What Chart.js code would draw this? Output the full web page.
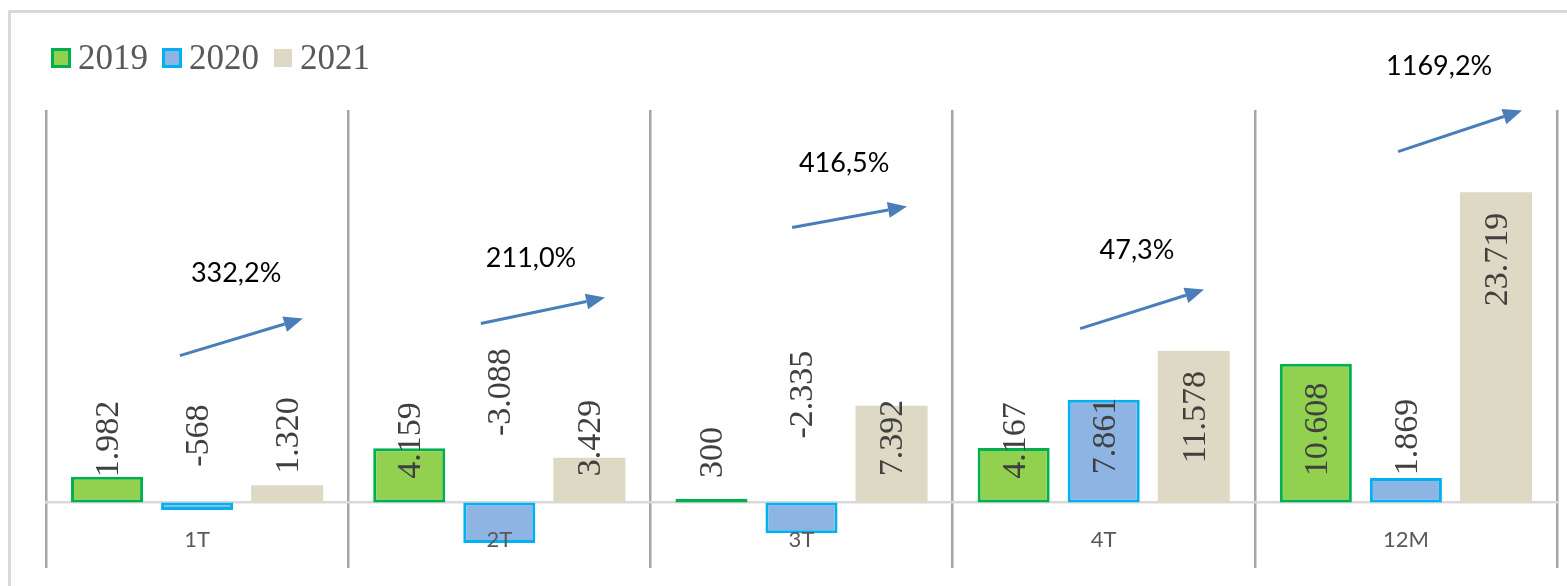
<!DOCTYPE html>
<html>
<head>
<meta charset="utf-8">
<script src="https://cdn.jsdelivr.net/npm/chart.js@4"></script>
<style>
    body { margin: 0; background: #fff; }
    #marco { position: relative; width: 1567px; height: 586px; overflow: hidden; }
    #borde { position: absolute; left: 8px; top: 10px; width: 1700px; height: 700px; border: 3px solid #d9d9d9; }
    #grafico { position: absolute; left: 0; top: 0; }
</style>
</head>
<body>
<div id="marco">
    <div id="borde"></div>
    <canvas id="grafico" width="1567" height="586"></canvas>
</div>
<script>
const categorias = ["1T", "2T", "3T", "4T", "12M"];
const anios = ["2019", "2020", "2021"];
const valores2019 = [1982, 4159, 300, 4167, 10608];
const valores2020 = [-568, -3088, -2335, 7861, 1869];
const valores2021 = [1320, 3429, 7392, 11578, 23719];
const variaciones = ["332,2%", "211,0%", "416,5%", "47,3%", "1169,2%"];

// eje y: -5.000 a 30.000
const ejeMin = -5000;
const ejeMax = 30000;

// donde quedaron las etiquetas de valor en el original (centro, en unidades del eje)
const posEtiquetas = [
    [4853, 4738, 3821, 4738, 5579],
    [5120, 8444, 8253, 5082, 5006],
    [5120, 4929, 4929, 6534, 18570]
];

// flechas: [desplazamiento desde el centro de la categoria, valor]
const flechaDesde = [[-0.057, 11234], [-0.061, 13679], [-0.031, 21016], [-0.078, 13297], [-0.026, 26823]];
const flechaHasta = [[0.350, 14061], [0.350, 15666], [0.349, 22620], [0.332, 16277], [0.384, 29957]];
const posVariacion = [[0.129, 17500], [0.105, 18646], [0.141, 25906], [0.110, 19258], [0.110, 33319]];

const colores = [
    ["#92d050", "#00b050", 3], // verde
    ["#8eb4e3", "#00b0f0", 3], // azul
    ["#ddd9c4", "#ddd9c4", 0]  // beige
];

function conPuntos(v) {
    const s = Math.abs(v).toString().replace(/\B(?=(\d{3})+(?!\d))/g, ".");
    return (v < 0 ? "-" : "") + s;
}

const leyenda = {
    id: "leyenda",
    afterDraw(chart) {
        const ctx = chart.ctx;
        ctx.save();
        ctx.font = "35px 'Liberation Serif'";
        ctx.textBaseline = "alphabetic";
        ctx.textAlign = "left";
        let x = 51;
        chart.data.datasets.forEach(ds => {
            ctx.fillStyle = ds.backgroundColor;
            if (ds.borderWidth > 0) {
                ctx.fillRect(x, 48, 20, 20);
                ctx.strokeStyle = ds.borderColor;
                ctx.lineWidth = 3;
                ctx.strokeRect(x + 1.5, 49.5, 17, 17);
            } else {
                ctx.fillRect(x + 1, 49, 18, 18);
            }
            x += 27;
            ctx.fillStyle = "#595959";
            ctx.fillText(ds.label, x, 69);
            x += ctx.measureText(ds.label).width + 14;
        });
        ctx.restore();
    }
};

const etiquetasValor = {
    id: "etiquetasValor",
    afterDatasetsDraw(chart) {
        const ctx = chart.ctx;
        const y = chart.scales.y;
        ctx.save();
        ctx.font = "34px 'Liberation Serif'";
        ctx.fillStyle = "#404040";
        ctx.textAlign = "center";
        ctx.textBaseline = "middle";
        chart.data.datasets.forEach((ds, i) => {
            chart.getDatasetMeta(i).data.forEach((barra, j) => {
                ctx.save();
                ctx.translate(barra.x + 2, y.getPixelForValue(posEtiquetas[i][j]));
                ctx.rotate(-Math.PI / 2);
                ctx.fillText(conPuntos(ds.data[j]), 0, 0);
                ctx.restore();
            });
        });
        ctx.restore();
    }
};

const flechas = {
    id: "flechas",
    afterDraw(chart) {
        const { ctx, scales: { x, y } } = chart;
        ctx.save();
        categorias.forEach((c, i) => {
            const x1 = x.getPixelForValue(i + flechaDesde[i][0]);
            const y1 = y.getPixelForValue(flechaDesde[i][1]);
            const x2 = x.getPixelForValue(i + flechaHasta[i][0]);
            const y2 = y.getPixelForValue(flechaHasta[i][1]);
            const ang = Math.atan2(y2 - y1, x2 - x1);
            const largo = 19, ancho = 8;
            const bx = x2 - largo * Math.cos(ang);
            const by = y2 - largo * Math.sin(ang);

            ctx.strokeStyle = "#4a7ebb";
            ctx.fillStyle = "#4a7ebb";
            ctx.lineWidth = 3;
            ctx.beginPath();
            ctx.moveTo(x1, y1);
            ctx.lineTo(bx, by);
            ctx.stroke();

            ctx.beginPath();
            ctx.moveTo(x2, y2);
            ctx.lineTo(bx + ancho * Math.sin(ang), by - ancho * Math.cos(ang));
            ctx.lineTo(bx - ancho * Math.sin(ang), by + ancho * Math.cos(ang));
            ctx.closePath();
            ctx.fill();

            ctx.font = "27px Lato";
            ctx.fillStyle = "#000000";
            ctx.textAlign = "center";
            ctx.textBaseline = "middle";
            ctx.fillText(variaciones[i], x.getPixelForValue(i + posVariacion[i][0]), y.getPixelForValue(posVariacion[i][1]));
        });
        ctx.restore();
    }
};

const series = [valores2019, valores2020, valores2021];
const datasets = anios.map((anio, i) => ({
    label: anio,
    data: series[i],
    backgroundColor: colores[i][0],
    borderColor: colores[i][1],
    borderWidth: colores[i][2],
    borderSkipped: false,
    categoryPercentage: 0.894,
    barPercentage: 0.8
}));

new Chart(document.getElementById("grafico"), {
    type: "bar",
    data: { labels: categorias, datasets },
    options: {
        responsive: false,
        animation: false,
        layout: { padding: { left: 46, right: 10, top: 110, bottom: 18 } },
        scales: {
            x: {
                position: { y: 0 },
                offset: true,
                grid: { offset: true, color: "#a6a6a6", lineWidth: 2.5, drawTicks: false },
                border: { display: true, color: "#d9d9d9", width: 2.5 },
                ticks: { color: "#595959", font: { family: "Lato", size: 22 }, padding: 24, z: 1 }
            },
            y: {
                display: false,
                min: ejeMin,
                max: ejeMax
            }
        },
        plugins: {
            legend: { display: false },
            tooltip: { enabled: false }
        }
    },
    plugins: [etiquetasValor, flechas, leyenda]
});
</script>
</body>
</html>
